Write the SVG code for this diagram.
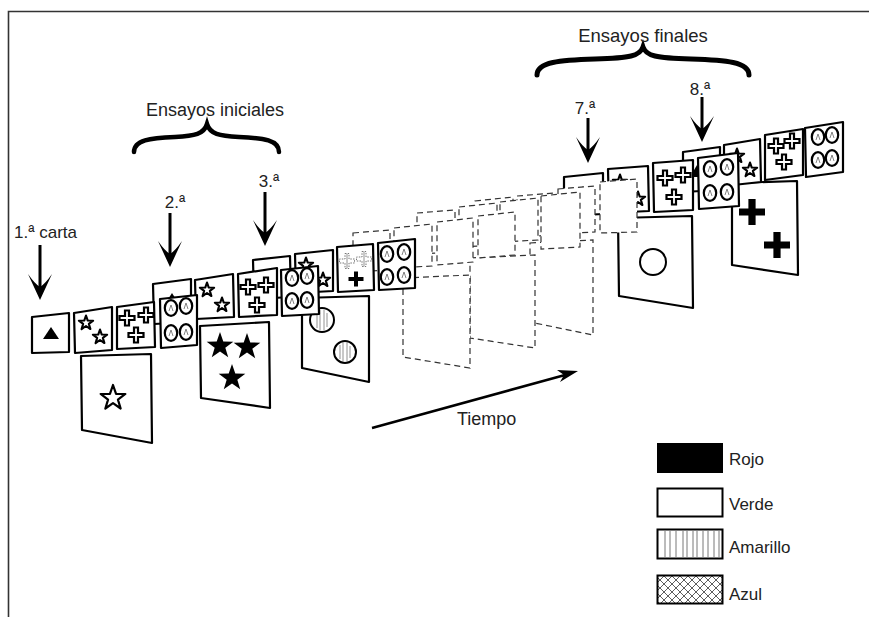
<svg xmlns="http://www.w3.org/2000/svg" xmlns:xlink="http://www.w3.org/1999/xlink" width="869" height="617" viewBox="0 0 869 617">
<style>
.card{fill:#fff;stroke:#000;stroke-width:2.2;stroke-linejoin:round}
.ghost{fill:#fff;stroke:#333;stroke-width:1.2;stroke-dasharray:6,4}
.st{fill:#fff;stroke:#000;stroke-width:2.8;stroke-linejoin:round}
.stb{fill:#000;stroke:none}
.cr{fill:#fff;stroke:#000;stroke-width:2.2}
.crb{fill:#000}
.crY{fill:#fff;stroke:#777;stroke-width:1;stroke-dasharray:1.5,1.2}
.ci{fill:#fff;stroke:#000;stroke-width:2.2}
.mk{fill:none;stroke:#666;stroke-width:0.8}
.yl{stroke:#777;stroke-width:0.8}
.lbl{font-family:"Liberation Sans",Arial,sans-serif;fill:#222}
.shaft{stroke:#000;stroke-width:3;fill:none}
.brace{fill:none;stroke:#000;stroke-width:4.5;stroke-linecap:round}
</style>
<defs>
<path id="star" d="M0,-10 L2.35,-3.24 L9.51,-3.09 L3.8,1.24 L5.88,8.09 L0,4 L-5.88,8.09 L-3.8,1.24 L-9.51,-3.09 L-2.35,-3.24 Z"/>
<path id="cross" d="M-2,-7.5 H2 V-2 H7.5 V2 H2 V7.5 H-2 V2 H-7.5 V-2 H-2 Z"/>
<path id="bigcross" d="M-3.6,-13 H3.6 V-3.6 H13 V3.6 H3.6 V13 H-3.6 V3.6 H-13 V-3.6 H-3.6 Z"/>
<g id="circ"><ellipse class="ci" cx="0" cy="0" rx="6.2" ry="7.8"/><path class="mk" d="M-2,3 L0,-3 L2,3"/></g>
<path id="ahead" d="M0,0 L-12,-26 Q-5,-16 0,-13 Q5,-16 12,-26 Z"/>
<pattern id="xh" width="8" height="8" patternUnits="userSpaceOnUse"><path d="M0,0 L8,8 M8,0 L0,8" stroke="#333" stroke-width="0.8"/></pattern>
</defs>
<rect width="869" height="617" fill="#fff"/>
<path d="M8.5,617 V11.5 H869" fill="none" stroke="#333" stroke-width="1.6"/>

<!-- Trial 8 -->
<g id="trial8">
<polygon class="card" points="732,183 797,181 798,275 732,265"/>
<use href="#bigcross" class="crb" x="752" y="212"/>
<use href="#bigcross" class="crb" x="777" y="245"/>
<polygon class="card" points="683,152 720,147 720,190 683,192"/>
<polygon fill="#000" points="697,165 690,177 704,177"/>
<polygon class="card" points="724,145 760,139 761,182 724,186"/>
<use href="#star" class="st" transform="translate(737,156) scale(0.75)"/>
<use href="#star" class="st" transform="translate(750,170) scale(0.75)"/>
<polygon class="card" points="765,135 803,129 803,175 765,180"/>
<use href="#cross" class="cr" x="776" y="146"/>
<use href="#cross" class="cr" x="792" y="141"/>
<use href="#cross" class="cr" x="784" y="162"/>
<polygon class="card" points="805,128 843,122 843,172 806,177"/>
<use href="#circ" x="818" y="137"/><use href="#circ" x="832" y="135"/>
<use href="#circ" x="818" y="160"/><use href="#circ" x="832" y="158"/>
</g>

<!-- Trial 7 -->
<g id="trial7">
<polygon class="card" points="618,218 692,216 693,308 619,296"/>
<circle cx="653" cy="262" r="13" fill="#fff" stroke="#000" stroke-width="2"/>
<polygon class="card" points="564,177 603,173 603,214 564,216"/>
<polygon fill="#000" points="583,186 576,197 590,197"/>
<polygon class="card" points="608,169 648,166 649,211 609,213"/>
<use href="#star" class="st" transform="translate(620,182) scale(0.75)"/>
<use href="#star" class="st" transform="translate(638,199) scale(0.75)"/>
<polygon class="card" points="653,163 693,160 693,210 654,212"/>
<use href="#cross" class="cr" x="665" y="178"/>
<use href="#cross" class="cr" x="683" y="175"/>
<use href="#cross" class="cr" x="674" y="197"/>
<polygon class="card" points="698,158 738,153 739,206 699,209"/>
<use href="#circ" x="710" y="169"/><use href="#circ" x="727" y="167"/>
<use href="#circ" x="710" y="193"/><use href="#circ" x="727" y="192"/>
</g>

<!-- Ghost trials -->
<g id="ghost6">
<polygon class="ghost" points="530,243 593,240 593,335 530,322"/>
<polygon class="ghost" points="475,201 513,197 513,240 475,242"/>
<polygon class="ghost" points="517,196 555,193 555,235 517,237"/>
<polygon class="ghost" points="558,189 595,186 595,232 558,234"/>
<polygon class="ghost" points="600,182 637,179 637,232 600,233"/>
</g>
<g id="ghost5">
<polygon class="ghost" points="470,258 535,255 535,348 470,338"/>
<polygon class="ghost" points="417,213 455,210 455,252 417,254"/>
<polygon class="ghost" points="459,207 497,203 497,245 459,247"/>
<polygon class="ghost" points="500,202 538,198 538,240 500,242"/>
<polygon class="ghost" points="541,196 580,192 580,247 541,249"/>
</g>
<g id="ghost4">
<polygon class="ghost" points="403,278 470,275 470,368 403,357"/>
<polygon class="ghost" points="353,233 390,230 390,270 353,272"/>
<polygon class="ghost" points="394,228 432,224 432,266 394,268"/>
<polygon class="ghost" points="437,222 473,218 473,262 437,265"/>
<polygon class="ghost" points="478,216 515,212 515,255 478,258"/>
</g>

<!-- Trial 3 -->
<g id="trial3">
<polygon class="card" points="302,298 369,296 369,382 302,368"/>
<g>
<circle cx="322" cy="320" r="12" fill="#fff" stroke="#000" stroke-width="2"/>
<path class="yl" d="M317,312 V328 M320,310 V330 M324,310 V330 M327,313 V327"/>
<circle cx="345" cy="352" r="11" fill="#fff" stroke="#000" stroke-width="2"/>
<path class="yl" d="M340,345 V359 M343,343 V361 M347,343 V361 M350,346 V358"/>
</g>
<polygon class="card" points="253,260 290,256 291,297 254,299"/>
<polygon class="card" points="295,254 333,250 333,291 296,293"/>
<use href="#star" class="st" transform="translate(306,265) scale(0.75)"/>
<use href="#star" class="st" transform="translate(323,280) scale(0.75)"/>
<polygon class="card" points="337,247 373,244 374,290 338,292"/>
<use href="#cross" class="crY" x="347" y="261"/>
<use href="#cross" class="crY" x="364" y="259"/>
<path class="yl" d="M347,254 V268 M364,252 V266"/>
<use href="#cross" class="crb" x="356" y="279"/>
<polygon class="card" points="378,243 415,239 415,288 379,290"/>
<use href="#circ" x="387" y="254"/><use href="#circ" x="404" y="252"/>
<use href="#circ" x="387" y="277"/><use href="#circ" x="404" y="275"/>
</g>

<!-- Trial 2 -->
<g id="trial2">
<polygon class="card" points="200,326 269,322 270,408 201,398"/>
<use href="#star" class="stb" transform="translate(220,346) scale(1.4)"/>
<use href="#star" class="stb" transform="translate(247,347) scale(1.4)"/>
<use href="#star" class="stb" transform="translate(232,378) scale(1.4)"/>
<polygon class="card" points="153,284 191,279 191,322 154,324"/>
<polygon fill="#000" points="172,293 165,304 179,304"/>
<polygon class="card" points="195,280 233,274 234,317 196,319"/>
<use href="#star" class="st" transform="translate(207,290) scale(0.75)"/>
<use href="#star" class="st" transform="translate(222,305) scale(0.75)"/>
<polygon class="card" points="238,274 277,268 277,315 239,317"/>
<use href="#cross" class="cr" x="248" y="287"/>
<use href="#cross" class="cr" x="266" y="285"/>
<use href="#cross" class="cr" x="257" y="305"/>
<polygon class="card" points="281,270 318,266 319,314 282,316"/>
<use href="#circ" x="292" y="278"/><use href="#circ" x="307" y="276"/>
<use href="#circ" x="292" y="301"/><use href="#circ" x="307" y="300"/>
</g>

<!-- Trial 1 -->
<g id="trial1">
<polygon class="card" points="81,356 151,354 152,443 82,430"/>
<use href="#star" class="st" transform="translate(113,398) scale(1.3)" style="stroke-width:1.7"/>
<polygon class="card" points="32,317 69,313 69,352 32,353"/>
<polygon fill="#000" points="51,327 43,339 59,339"/>
<polygon class="card" points="74,313 112,307 112,350 75,353"/>
<use href="#star" class="st" transform="translate(86,323) scale(0.75)"/>
<use href="#star" class="st" transform="translate(100,337) scale(0.75)"/>
<polygon class="card" points="117,307 154,302 155,347 117,349"/>
<use href="#cross" class="cr" x="127" y="318"/>
<use href="#cross" class="cr" x="146" y="315"/>
<use href="#cross" class="cr" x="136" y="335"/>
<polygon class="card" points="160,299 197,295 197,345 161,348"/>
<use href="#circ" x="171" y="308"/><use href="#circ" x="186" y="306"/>
<use href="#circ" x="171" y="333"/><use href="#circ" x="186" y="332"/>
</g>

<!-- Connectors / arrows -->
<g id="connectors">
<line class="shaft" x1="40" y1="245" x2="40" y2="288"/>
<use href="#ahead" x="40" y="300"/>
<line class="shaft" x1="170" y1="213" x2="170" y2="255"/>
<use href="#ahead" x="170" y="267"/>
<line class="shaft" x1="265" y1="192" x2="265" y2="234"/>
<use href="#ahead" x="265" y="246"/>
<line class="shaft" x1="588" y1="118" x2="588" y2="151"/>
<use href="#ahead" x="588" y="163"/>
<line class="shaft" x1="702" y1="97" x2="702" y2="130"/>
<use href="#ahead" x="702" y="142"/>
<line x1="372" y1="428" x2="565" y2="375" stroke="#000" stroke-width="2.5"/>
<polygon fill="#000" points="578,371 557,370 564,375 560,382"/>
</g>

<!-- Braces -->
<g id="brace-iniciales">
<path class="brace" d="M134,152 C134,140 150,138 175,137 C195,136 204,134 207,124 C210,134 219,136 239,137 C264,138 279,140 279,152"/>
</g>
<g id="brace-finales">
<path class="brace" style="stroke-width:5" d="M537,75 C537,62 560,60 595,59 C630,58 640,56 643,47 C646,56 656,58 691,59 C726,60 749,62 749,75"/>
</g>

<!-- Labels -->
<g id="labels" class="lbl">
<text x="215" y="116" font-size="18" text-anchor="middle">Ensayos iniciales</text>
<text x="643" y="42" font-size="18.5" text-anchor="middle">Ensayos finales</text>
<text x="14" y="238" font-size="17">1.ª carta</text>
<text x="175" y="208" font-size="17" text-anchor="middle">2.ª</text>
<text x="269" y="187" font-size="17" text-anchor="middle">3.ª</text>
<text x="585" y="114" font-size="17" text-anchor="middle">7.ª</text>
<text x="700" y="95" font-size="17" text-anchor="middle">8.ª</text>
<text x="457" y="425" font-size="18">Tiempo</text>
</g>

<!-- Legend -->
<g id="legend-rojo">
<rect x="657" y="443" width="66" height="30" fill="#000"/>
<text class="lbl" x="729" y="465" font-size="17">Rojo</text>
</g>
<g id="legend-verde">
<rect x="657.5" y="488.5" width="65" height="28" fill="#fff" stroke="#000" stroke-width="2"/>
<text class="lbl" x="729" y="510" font-size="17">Verde</text>
</g>
<g id="legend-amarillo">
<rect x="657.5" y="529.5" width="65" height="29" fill="#fff" stroke="#000" stroke-width="2"/>
<path stroke="#555" stroke-width="0.8" d="M665,531 V557 M670,531 V557 M676,531 V557 M683,531 V557 M687,531 V557 M693,531 V557 M697,531 V557 M703,531 V557 M708,531 V557 M714,531 V557 M719,531 V557"/>
<text class="lbl" x="729" y="553" font-size="17">Amarillo</text>
</g>
<g id="legend-azul">
<rect x="657.5" y="575.5" width="65" height="28" fill="url(#xh)" stroke="#000" stroke-width="2"/>
<text class="lbl" x="729" y="600" font-size="17">Azul</text>
</g>
</svg>
